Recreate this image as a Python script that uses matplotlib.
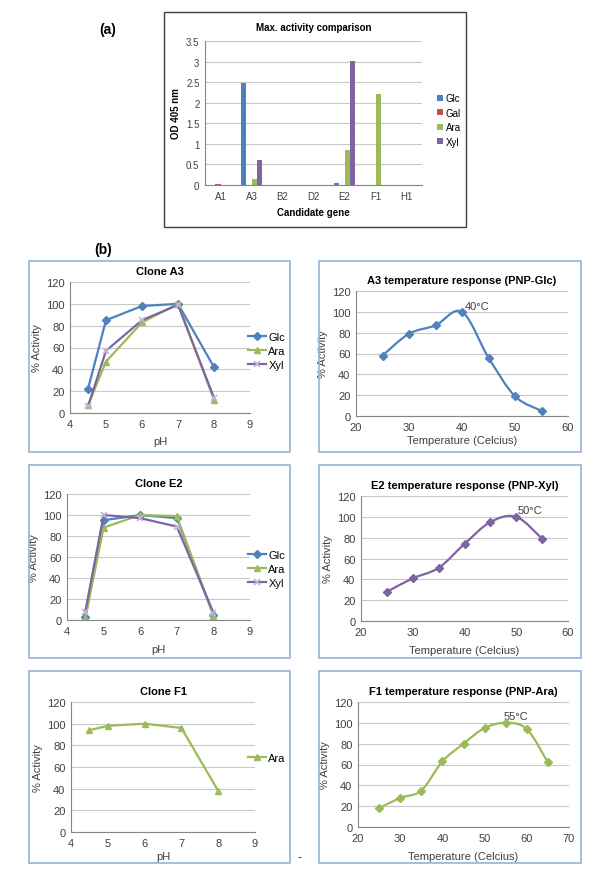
import numpy as np
import matplotlib
matplotlib.use("Agg")
import matplotlib.pyplot as plt
from matplotlib.path import Path
from matplotlib.patches import PathPatch, Rectangle

plt.rcParams['font.family'] = ['Liberation Sans', 'DejaVu Sans']

# ---------------- data ----------------
genes = ["A1", "A3", "B2", "D2", "E2", "F1", "H1"]
bar_series = ["Glc", "Gal", "Ara", "Xyl"]
od_glc = [0.0, 2.47, 0.0, 0.01, 0.04, 0.0, 0.0]
od_gal = [0.02, 0.01, 0.0, 0.0, 0.0, 0.0, 0.0]
od_ara = [0.0, 0.15, 0.01, 0.0, 0.85, 2.22, 0.0]
od_xyl = [0.0, 0.60, 0.0, 0.0, 3.02, 0.0, 0.0]

ph = [4.5, 5, 6, 7, 8]
a3_glc = [22, 85, 98, 100, 42]
a3_ara = [7, 47, 83, 100, 12]
a3_xyl = [6, 57, 85, 99, 14]
e2_glc = [3, 95, 100, 97, 5]
e2_ara = [2, 88, 100, 99, 4]
e2_xyl = [8, 100, 97, 89, 7]
f1_ara = [94, 98, 100, 96, 38]

temp_a3 = [25, 30, 35, 40, 45, 50, 55]
act_a3 = [58, 79, 87, 100, 56, 19, 5]
temp_e2 = [25, 30, 35, 40, 45, 50, 55]
act_e2 = [28, 41, 51, 74, 95, 100, 79]
temp_f1 = [25, 30, 35, 40, 45, 50, 55, 60, 65]
act_f1 = [18, 28, 35, 63, 80, 95, 100, 94, 62]

C_GLC = "#4F81BD"
C_GAL = "#C0504D"
C_ARA = "#9BBB59"
C_XYL = "#8064A2"
FRAME = "#95B3D7"
GRID = "#C8C8C8"
AXC = "#868686"

W, H = 600, 879
fig = plt.figure(figsize=(W / 100, H / 100), dpi=100)


def ax_px(l, t, r, b):
    return fig.add_axes([l / W, 1 - b / H, (r - l) / W, (b - t) / H])


def frame_px(l, t, r, b, color, lw=1.2):
    fig.patches.append(Rectangle((l / W, 1 - b / H), (r - l) / W, (b - t) / H,
                                 transform=fig.transFigure, fill=False,
                                 edgecolor=color, linewidth=lw, zorder=0))


def ftext(x, y, s, **kw):
    fig.text(x / W, 1 - y / H, s, **kw)


def style(ax, fs=8):
    for s in ["top", "right"]:
        ax.spines[s].set_visible(False)
    for s in ["left", "bottom"]:
        ax.spines[s].set_color(AXC)
        ax.spines[s].set_linewidth(0.8)
    ax.yaxis.grid(True, color=GRID, linewidth=0.8)
    ax.set_axisbelow(True)
    ax.tick_params(length=0, labelsize=fs, colors="#404040", pad=4)


def smooth(ax, x, y, color):
    pts = np.column_stack([x, y]).astype(float)
    verts = [pts[0]]
    codes = [Path.MOVETO]
    n = len(pts)
    for i in range(n - 1):
        p0 = pts[i - 1] if i > 0 else pts[i]
        p1 = pts[i]
        p2 = pts[i + 1]
        p3 = pts[i + 2] if i + 2 < n else pts[i + 1]
        verts += [p1 + (p2 - p0) / 6, p2 - (p3 - p1) / 6, p2]
        codes += [Path.CURVE4] * 3
    ax.add_patch(PathPatch(Path(verts, codes), fill=False, edgecolor=color,
                           linewidth=1.6, zorder=3))
    ax.plot(x, y, linestyle="none", marker="D", markersize=3.6, color=color, zorder=4)


# ---------------- panel (a) ----------------
frame_px(164, 13, 466, 228, "#404040", lw=1.0)
ftext(108, 30, "(a)", fontsize=10, fontweight="bold", ha="center", va="center")
axa = ax_px(205, 42, 422, 186)
style(axa, fs=7)
xa = np.arange(len(genes))
bw = 0.175
for k, (vals, col) in enumerate(zip([od_glc, od_gal, od_ara, od_xyl],
                                    [C_GLC, C_GAL, C_ARA, C_XYL])):
    axa.bar(xa + (k - 1.5) * bw, vals, width=bw, color=col, label=bar_series[k])
axa.set_xlim(-0.5, len(genes) - 0.5)
axa.set_ylim(0, 3.5)
axa.set_yticks(np.arange(0, 3.51, 0.5))
axa.set_yticklabels(["0", "0.5", "1", "1.5", "2", "2.5", "3", "3.5"])
axa.set_xticks(xa)
axa.set_xticklabels(genes)
axa.set_title("Max. activity comparison", fontsize=7, fontweight="bold", pad=8)
axa.set_xlabel("Candidate gene", fontsize=7, fontweight="bold", labelpad=5)
axa.set_ylabel("OD 405 nm", fontsize=7, fontweight="bold", labelpad=4)
axa.legend(loc="center left", bbox_to_anchor=(428 / W, 1 - 121 / H),
           bbox_transform=fig.transFigure, frameon=False, fontsize=7,
           handlelength=0.6, handleheight=0.6, handletextpad=0.3, labelspacing=0.45)

ftext(103, 250, "(b)", fontsize=10, fontweight="bold", ha="center", va="center")

# ---------------- pH panels ----------------
rows = [(262, 453), (466, 659), (672, 864)]
for (t, b) in rows:
    frame_px(29, t, 290, b, FRAME)
    frame_px(319, t, 581, b, FRAME)


def ph_panel(box, title, series, leg_y, xlab_y):
    ax = ax_px(*box)
    style(ax)
    for (vals, col, mk, lab) in series:
        if mk == "x":
            ax.plot(ph, vals, color=col, linewidth=1.6, marker="x", markersize=5,
                    markeredgecolor="#C3B5DA", markeredgewidth=1.2, label=lab)
        else:
            ax.plot(ph, vals, color=col, linewidth=1.6, marker=mk, markersize=4.2,
                    label=lab)
    ax.set_xlim(4, 9)
    ax.set_ylim(0, 120)
    ax.set_xticks(range(4, 10))
    ax.set_yticks(range(0, 121, 20))
    ax.set_title(title, fontsize=8, fontweight="bold", pad=6)
    ax.set_ylabel("% Activity", fontsize=8, color="#404040", labelpad=3)
    ax.set_xlabel("pH", fontsize=8, color="#404040")
    ax.xaxis.set_label_coords(0.5, 1 - (xlab_y - box[1]) / (box[3] - box[1]),
                              transform=ax.transAxes)
    ax.legend(loc="center left", bbox_to_anchor=(244 / W, 1 - leg_y / H),
              bbox_transform=fig.transFigure, frameon=False, fontsize=8,
              handlelength=1.6, handletextpad=0.2, labelspacing=0.35,
              borderaxespad=0)
    return ax


ph_panel((70, 283, 250, 414), "Clone A3",
         [(a3_glc, C_GLC, "D", "Glc"), (a3_ara, C_ARA, "^", "Ara"),
          (a3_xyl, C_XYL, "x", "Xyl")], 352, 437)
ph_panel((67, 495, 250, 621), "Clone E2",
         [(e2_glc, C_GLC, "D", "Glc"), (e2_ara, C_ARA, "^", "Ara"),
          (e2_xyl, C_XYL, "x", "Xyl")], 570, 645)
ph_panel((71, 703, 255, 833), "Clone F1",
         [(f1_ara, C_ARA, "^", "Ara")], 759, 852)
ftext(299, 857, "-", fontsize=8, ha="center", va="center")


# ---------------- temperature panels ----------------
def temp_panel(box, title, x, y, col, xmax, ann, ann_xy, xlab_y):
    ax = ax_px(*box)
    style(ax)
    smooth(ax, x, y, col)
    ax.set_xlim(20, xmax)
    ax.set_ylim(0, 120)
    ax.set_xticks(range(20, xmax + 1, 10))
    ax.set_yticks(range(0, 121, 20))
    ax.set_title(title, fontsize=8, fontweight="bold", pad=6)
    ax.set_ylabel("% Activity", fontsize=8, color="#404040", labelpad=3)
    ax.set_xlabel("Temperature (Celcius)", fontsize=8, color="#404040")
    ax.xaxis.set_label_coords(0.5, 1 - (xlab_y - box[1]) / (box[3] - box[1]),
                              transform=ax.transAxes)
    ax.text(ann_xy[0], ann_xy[1], ann, fontsize=8, color="#404040",
            ha="left", va="center")
    return ax


temp_panel((356, 292, 568, 417), "A3 temperature response (PNP-Glc)",
           temp_a3, act_a3, C_GLC, 60, "40°C", (40.6, 106), 436)
temp_panel((361, 497, 568, 622), "E2 temperature response (PNP-Xyl)",
           temp_e2, act_e2, C_XYL, 60, "50°C", (50.3, 107), 646)
temp_panel((358, 703, 569, 828), "F1 temperature response (PNP-Ara)",
           temp_f1, act_f1, C_ARA, 70, "55°C", (54.6, 107), 852)

fig.savefig("out.png", dpi=100)
